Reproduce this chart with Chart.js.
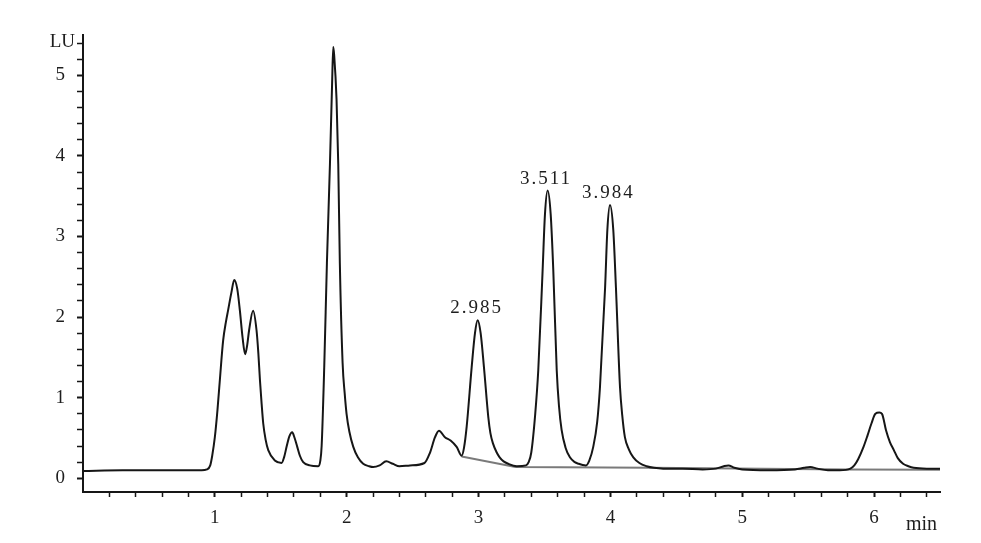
<!DOCTYPE html>
<html>
<head>
<meta charset="utf-8">
<script src="https://cdn.jsdelivr.net/npm/chart.js@4"></script>
<style>
  html, body { margin: 0; padding: 0; background: #fff; }
  #wrap { width: 981px; height: 543px; position: relative; }
</style>
</head>
<body>
<div id="wrap"><canvas id="c" width="981" height="543"></canvas></div>
<script>
// ---- Data ----
const retentionTime = [
  0.00, 0.30, 0.60, 0.90, 0.94, 0.965, 0.98, 1.00, 1.02, 1.038, 1.063, 1.085, 1.10, 1.125, 1.147, 1.17,
  1.19, 1.21, 1.23, 1.245, 1.26, 1.29, 1.316, 1.33, 1.342, 1.355, 1.367, 1.385, 1.405, 1.455, 1.506,
  1.525, 1.544, 1.565, 1.587, 1.605, 1.625, 1.645, 1.67, 1.72, 1.784, 1.80, 1.81, 1.83, 1.85, 1.873,
  1.89, 1.898, 1.905, 1.923, 1.936, 1.948, 1.969, 1.985, 1.999, 2.02, 2.05, 2.085, 2.125, 2.17, 2.20,
  2.25, 2.30, 2.35, 2.40, 2.48, 2.59, 2.63, 2.67, 2.70, 2.745, 2.788, 2.834, 2.872, 2.89, 2.91,
  2.948, 2.973, 2.993, 3.016, 3.041, 3.074, 3.09, 3.11, 3.135, 3.16, 3.19, 3.225, 3.29, 3.36, 3.38,
  3.40, 3.43, 3.453, 3.486, 3.504, 3.524, 3.547, 3.567, 3.593, 3.61, 3.63, 3.66, 3.693, 3.73, 3.76,
  3.79, 3.815, 3.84, 3.87, 3.90, 3.921, 3.96, 3.977, 3.997, 4.022, 4.042, 4.073, 4.09, 4.11, 4.14,
  4.174, 4.22, 4.275, 4.33, 4.40, 4.55, 4.70, 4.80, 4.86, 4.895, 4.94, 5.00, 5.20, 5.40, 5.47,
  5.515, 5.57, 5.65, 5.74, 5.82, 5.85, 5.88, 5.92, 5.95, 5.98, 6.01, 6.04, 6.06, 6.09, 6.12, 6.15,
  6.18, 6.22, 6.26, 6.30, 6.40, 6.50
];
const signalLU = [
  0.09, 0.10, 0.10, 0.10, 0.11, 0.16, 0.28, 0.51, 0.85, 1.22, 1.71, 1.95, 2.08, 2.30, 2.46, 2.35,
  2.08, 1.75, 1.54, 1.65, 1.84, 2.08, 1.84, 1.55, 1.22, 0.92, 0.68, 0.48, 0.35, 0.22, 0.19,
  0.26, 0.39, 0.52, 0.57, 0.50, 0.39, 0.28, 0.20, 0.16, 0.15, 0.22, 0.40, 1.40, 2.67, 3.90,
  4.94, 5.35, 5.25, 4.70, 3.90, 2.67, 1.43, 1.05, 0.80, 0.58, 0.39, 0.26, 0.18, 0.15, 0.14,
  0.16, 0.21, 0.18, 0.15, 0.16, 0.19, 0.31, 0.51, 0.59, 0.51, 0.47, 0.39, 0.28, 0.38, 0.64,
  1.38, 1.80, 1.96, 1.80, 1.38, 0.76, 0.56, 0.43, 0.33, 0.26, 0.21, 0.18, 0.15, 0.16, 0.20,
  0.32, 0.80, 1.34, 2.58, 3.28, 3.57, 3.28, 2.58, 1.34, 0.90, 0.60, 0.38, 0.26, 0.20, 0.18,
  0.165, 0.16, 0.22, 0.39, 0.70, 1.13, 2.37, 3.08, 3.39, 3.08, 2.37, 1.13, 0.78, 0.51, 0.36,
  0.26, 0.19, 0.15, 0.13, 0.12, 0.12, 0.11, 0.12, 0.15, 0.16, 0.13, 0.11, 0.10, 0.11, 0.13,
  0.14, 0.12, 0.10, 0.10, 0.12, 0.16, 0.24, 0.39, 0.53, 0.68, 0.80, 0.815, 0.80, 0.60, 0.45, 0.35,
  0.25, 0.18, 0.15, 0.13, 0.12, 0.12
];
// integration baseline (grey)
const baselineTime = [2.872, 3.28, 4.30, 5.80, 6.50];
const baselineLU   = [0.27, 0.14, 0.13, 0.11, 0.105];

// peak annotations
const peakTimes  = [2.985, 3.511, 3.984];
const peakLabels = ['2.985', '3.511', '3.984'];

// axis ticks
const xMajorTicks = [1, 2, 3, 4, 5, 6];
const xMinorTicks = [0.2, 0.4, 0.6, 0.8, 1.2, 1.4, 1.6, 1.8, 2.2, 2.4, 2.6, 2.8, 3.2, 3.4, 3.6, 3.8,
                     4.2, 4.4, 4.6, 4.8, 5.2, 5.4, 5.6, 5.8, 6.2, 6.4];
const yMajorTicks = [0, 1, 2, 3, 4, 5];
const yMinorTicks = [0.2, 0.4, 0.6, 0.8, 1.2, 1.4, 1.6, 1.8, 2.2, 2.4, 2.6, 2.8, 3.2, 3.4, 3.6, 3.8,
                     4.2, 4.4, 4.6, 4.8, 5.2, 5.4];
const xAxisUnit = 'min';
const yAxisUnit = 'LU';

// ---- Build chart ----
const FONT = '"Liberation Serif", "Times New Roman", serif';
const INK = '#161616';

const curvePts = retentionTime.map((t, i) => ({ x: t, y: signalLU[i] }));
const basePts = baselineTime.map((t, i) => ({ x: t, y: baselineLU[i] }));

function tickList(major, minor) {
  return major.concat(minor).sort((a, b) => a - b).map(v => ({ value: v }));
}
function isMajor(list, v) { return list.some(m => Math.abs(m - v) < 1e-9); }

const textPlugin = {
  id: 'texts',
  afterDraw(chart) {
    const { ctx, chartArea, scales } = chart;
    ctx.save();
    ctx.fillStyle = '#1e1e1e';
    ctx.font = '19px ' + FONT;
    ctx.textAlign = 'right';
    ctx.textBaseline = 'alphabetic';
    ctx.fillText(yAxisUnit, chartArea.left - 8, chartArea.top + 12);
    ctx.font = '20px ' + FONT;
    ctx.fillText(xAxisUnit, chartArea.right - 3, chartArea.bottom + 38);
    ctx.font = '19px ' + FONT;
    ctx.textAlign = 'center';
    try { ctx.letterSpacing = '2px'; } catch (e) {}
    peakTimes.forEach((t, k) => {
      let best = -Infinity;
      retentionTime.forEach((rt, i) => {
        if (Math.abs(rt - t) < 0.05 && signalLU[i] > best) best = signalLU[i];
      });
      const px = scales.x.getPixelForValue(t);
      const py = scales.y.getPixelForValue(best) - 7;
      ctx.fillText(peakLabels[k], px, py);
    });
    ctx.restore();
  }
};

new Chart(document.getElementById('c'), {
  type: 'line',
  data: {
    datasets: [
      {
        data: curvePts,
        borderColor: INK,
        borderWidth: 2,
        pointRadius: 0,
        fill: false,
        cubicInterpolationMode: 'monotone'
      },
      {
        data: basePts,
        borderColor: '#7a7a7a',
        borderWidth: 2,
        pointRadius: 0,
        fill: false,
        tension: 0
      }
    ]
  },
  options: {
    responsive: false,
    animation: false,
    devicePixelRatio: 1,
    layout: { padding: { top: 35, right: 41, left: 0, bottom: 0 } },
    plugins: { legend: { display: false }, tooltip: { enabled: false } },
    scales: {
      x: {
        type: 'linear',
        min: 0,
        max: 6.5,
        afterBuildTicks: s => { s.ticks = tickList(xMajorTicks, xMinorTicks); },
        afterFit: s => { s.height = 51; },
        border: { display: true, color: INK, width: 2 },
        grid: {
          display: true,
          drawOnChartArea: false,
          drawTicks: true,
          tickLength: 5,
          tickColor: INK,
          tickWidth: c => (c.tick && isMajor(xMajorTicks, c.tick.value) ? 2 : 1.5)
        },
        ticks: {
          autoSkip: false,
          maxRotation: 0,
          padding: 10,
          color: '#1e1e1e',
          font: { family: FONT, size: 19 },
          callback: v => (isMajor(xMajorTicks, v) ? String(Math.round(v)) : '')
        }
      },
      y: {
        type: 'linear',
        min: -0.17,
        max: 5.5,
        afterBuildTicks: s => { s.ticks = tickList(yMajorTicks, yMinorTicks); },
        afterFit: s => { s.width = 83; },
        border: { display: true, color: INK, width: 2 },
        grid: {
          display: true,
          drawOnChartArea: false,
          drawTicks: true,
          tickLength: 6,
          tickColor: INK,
          tickWidth: c => (c.tick && isMajor(yMajorTicks, c.tick.value) ? 2 : 1.5)
        },
        ticks: {
          autoSkip: false,
          padding: 12,
          color: '#1e1e1e',
          font: { family: FONT, size: 19 },
          callback: v => (isMajor(yMajorTicks, v) ? String(Math.round(v)) : '')
        }
      }
    }
  },
  plugins: [textPlugin]
});
</script>
</body>
</html>
